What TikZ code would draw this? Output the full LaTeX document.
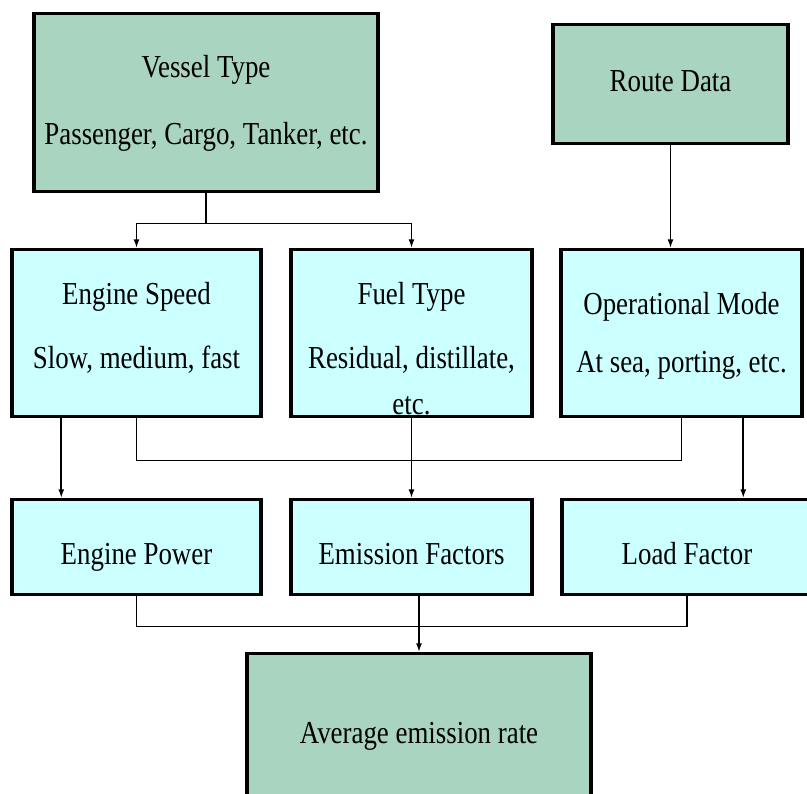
\documentclass[tikz,border=0pt]{standalone}
\usepackage{fontspec}
\setmainfont{Liberation Serif}[FakeStretch=0.84]
\usetikzlibrary{arrows.meta}
\definecolor{seagreen}{RGB}{168,212,192}
\definecolor{paleblue}{RGB}{204,255,255}
\newcommand{\rows}[1]{\begin{tabular}[t]{@{}c@{}}#1\end{tabular}}

\tikzstyle{box}=[draw, line width=2.6pt, anchor=north, inner sep=0pt, font=\fontsize{24}{28}\selectfont]
\tikzstyle{dark}=[box, fill=seagreen]
\tikzstyle{light}=[box, fill=paleblue]
\tikzstyle{wire}=[line width=1.2pt]
\tikzstyle{feed}=[wire, -{Latex[length=6.5pt,width=4.5pt]}]

\begin{document}
\begin{tikzpicture}[x=0.75pt, y=-0.75pt]
	% Page, in pixels of the picture
	\clip (0,0) rectangle (807,793);
	\fill[white] (0,0) rectangle (807,793);

	% Inputs
	\node[dark, minimum width=258pt, text height=48pt, text depth=85.5pt] (vessel) at (206,12)
		{\rows{Vessel Type\\[22pt]Passenger, Cargo, Tanker, etc.}};
	\node[dark, minimum width=176.25pt, text height=50.25pt, text depth=39pt] (route) at (670.5,23)
		{Route Data};

	% Middle row
	\node[light, minimum width=186.75pt, text height=41.25pt, text depth=84pt] (speed) at (136.5,248)
		{\rows{Engine Speed\\[20pt]Slow, medium, fast}};
	\node[light, minimum width=180.75pt, text height=41.25pt, text depth=84pt] (fuel) at (411.5,248)
		{\rows{Fuel Type\\[20pt]Residual, distillate,\\[6.5pt]etc.}};
	\node[light, minimum width=180.75pt, text height=48.75pt, text depth=76.5pt] (opmode) at (681.5,248)
		{\rows{Operational Mode\\[15pt]At sea, porting, etc.}};

	% Bottom row
	\node[light, minimum width=186.75pt, text height=48.75pt, text depth=22.5pt] (power) at (136.5,498)
		{Engine Power};
	\node[light, minimum width=180.75pt, text height=48.75pt, text depth=22.5pt] (factors) at (411.5,498)
		{Emission Factors};
	\node[light, minimum width=187.5pt, text height=48.75pt, text depth=22.5pt] (load) at (687,498)
		{Load Factor};

	% Result
	\node[dark, minimum width=258pt, text height=67.5pt, text depth=51pt] (average) at (419,652)
		{Average emission rate};

	% Connectors
	\draw[wire] (vessel.south) -- ++(0,30) coordinate (split);
	\draw[feed] (split) -| (speed.north);
	\draw[feed] (split) -| (fuel.north);
	\draw[feed] (route.south) -- (route.south |- opmode.north);

	\path (speed.south west) ++(51,0) coordinate (speedout);
	\path (opmode.south west) ++(184,0) coordinate (opout);
	\draw[feed] (speedout) -- (speedout |- power.north);
	\draw[wire] (speed.south) -- ++(0,42) -| (opmode.south);
	\draw[feed] (fuel.south) -- (factors.north);
	\draw[feed] (opout) -- (opout |- load.north);

	\draw[wire] (power.south) -- ++(0,30) -| (load.south);
	\draw[feed] (average.north |- factors.south) -- (average.north);
\end{tikzpicture}
\end{document}
